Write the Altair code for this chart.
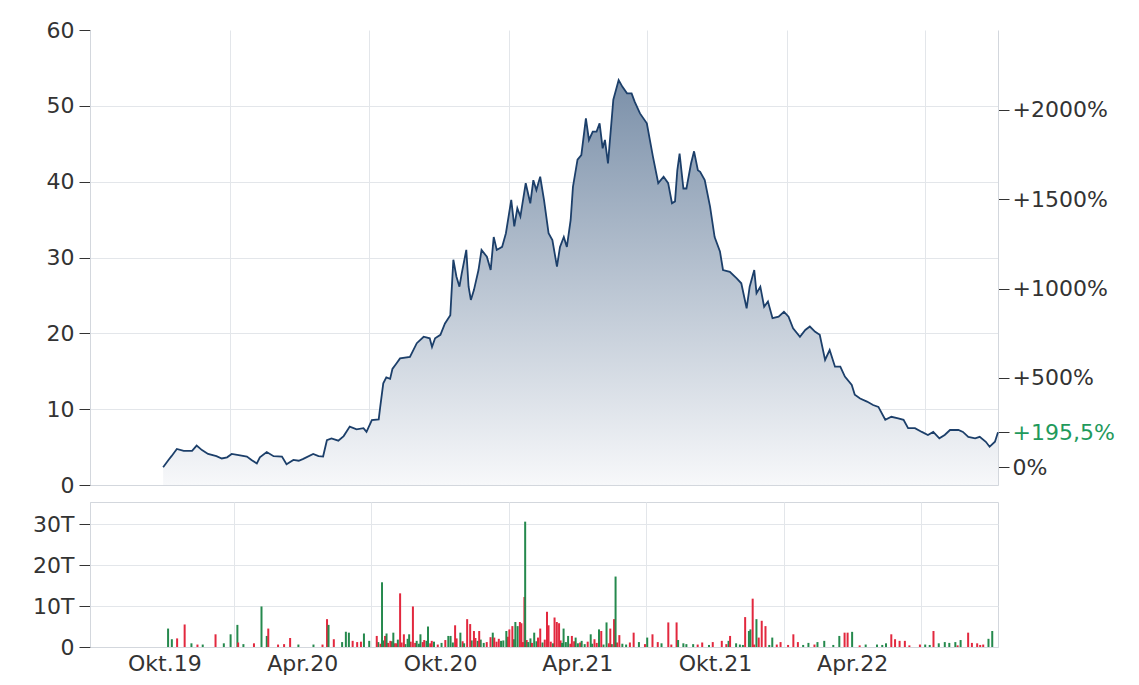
import altair as alt
import pandas as pd

START = pd.Timestamp("2019-07-01")

# price series: day offset from 2019-07-01, price
price_days = [96, 103, 107, 114, 123, 134, 140, 147, 155, 166, 173, 180, 186, 197, 206, 212, 219, 223,
              232, 241, 252, 258, 267, 274, 280, 293, 300, 306, 311, 317, 326, 333, 341, 350, 359, 363,
              370, 379, 381, 385, 389, 394, 397, 402, 407, 420, 429, 438, 446, 449, 453, 460, 466, 473,
              477, 481, 485, 488, 494, 497, 500, 504, 510, 514, 521, 526, 530, 534, 541, 546, 553, 557,
              561, 565, 572, 578, 582, 586, 591, 596, 602, 607, 613, 617, 622, 626, 631, 634, 640, 645,
              651, 655, 660, 665, 669, 673, 676, 680, 687, 694, 699, 705, 711, 715, 722, 731, 739, 746,
              753, 759, 764, 768, 771, 774, 779, 783, 789, 793, 798, 801, 807, 814, 820, 827, 831, 840,
              849, 855, 862, 866, 872, 875, 880, 885, 890, 896, 904, 911, 917, 923, 932, 939, 945, 952,
              958, 965, 971, 978, 985, 991, 1000, 1004, 1011, 1020, 1028, 1035, 1044, 1052, 1061, 1068,
              1074, 1083, 1092, 1100, 1107, 1115, 1122, 1129, 1140, 1146, 1153, 1162, 1168, 1176, 1181,
              1188, 1192]
price_vals = [2.33, 3.3, 3.8, 4.75, 4.5, 4.5, 5.2, 4.6, 4.1, 3.8, 3.5, 3.65, 4.1, 3.9, 3.75, 3.3, 2.85, 3.65,
              4.35, 3.8, 3.75, 2.75, 3.3, 3.2, 3.45, 4.1, 3.8, 3.75, 5.9, 6.15, 5.85, 6.45, 7.7, 7.35, 7.5, 7.0,
              8.55, 8.65, 10.3, 13.4, 14.2, 14.0, 15.3, 16.0, 16.7, 16.9, 18.7, 19.55, 19.35, 18.2, 19.35, 19.8, 21.3, 22.4,
              29.7, 27.5, 26.15, 27.9, 31.0, 26.15, 24.4, 25.7, 28.35, 31.0, 30.1, 28.35, 32.7, 31.0, 31.4, 33.2, 37.6, 34.1,
              36.5, 35.4, 39.8, 37.15, 40.2, 38.9, 40.65, 37.6, 33.2, 32.3, 28.8, 31.4, 32.7, 31.4, 34.95, 39.3, 42.9, 43.5,
              48.35, 45.5, 46.6, 46.6, 47.7, 44.4, 45.5, 42.4, 50.8, 53.4, 52.5, 51.65, 51.65, 50.55, 49.0, 47.7, 43.3, 39.8,
              40.65, 39.8, 37.15, 37.4, 41.5, 43.7, 39.1, 39.1, 42.4, 44.0, 41.5, 41.3, 40.2, 36.7, 32.7, 30.8, 28.35, 28.1,
              27.25, 26.6, 23.3, 26.15, 28.35, 25.3, 26.15, 23.5, 24.2, 22.0, 22.2, 22.85, 22.2, 20.65, 19.55, 20.45, 20.9, 20.2,
              19.8, 16.5, 17.8, 15.6, 15.6, 14.3, 13.2, 11.9, 11.4, 11.0, 10.55, 10.3, 8.6, 9.0, 8.8, 8.6,
              7.5, 7.5, 7.0, 6.6, 7.0, 6.15, 6.6, 7.25, 7.25, 7.0, 6.35, 6.15, 6.35, 5.7, 5.05,
              5.7, 6.96]

# volume series (in T): day offset, volume, direction (G = up day, R = down day)
vol_days = [97, 102, 109, 119, 128, 136, 143, 160, 171, 180, 189, 190, 197, 211, 221, 228, 230, 243, 251, 259,
            270, 290, 302, 308, 310, 317, 328, 333, 337, 342, 348, 353, 357, 364, 374, 381, 385, 387, 392, 396,
            400, 405, 410, 417, 422, 427, 432, 437, 442, 447, 455, 469, 472, 478, 485, 494, 498, 503, 508, 510,
            516, 520, 528, 530, 539, 546, 550, 554, 558, 561, 564, 566, 570, 571, 575, 583, 591, 600, 602, 610,
            613, 616, 622, 628, 633, 638, 646, 658, 663, 669, 672, 679, 684, 689, 691, 696, 710, 715, 722, 733,
            740, 747, 761, 772, 774, 781, 794, 806, 820, 832, 841, 843, 851, 863, 868, 870, 873, 878, 881, 885,
            890, 899, 910, 927, 933, 947, 959, 968, 988, 995, 999, 1005, 1023, 1038, 1050, 1057, 1062, 1068, 1075, 1095,
            1102, 1113, 1120, 1128, 1134, 1142, 1149, 1159, 1164, 1171, 1179, 1186, 1191]
vol_vals = [4.5, 1.9, 2.1, 5.5, 0.9, 0.6, 0.6, 3.1, 0.9, 3.1, 5.4, 1.1, 0.7, 0.9, 9.9, 2.7, 4.5, 0.6, 0.7, 2.2,
            0.6, 0.6, 0.6, 6.8, 5.4, 1.9, 1.2, 3.7, 3.5, 1.5, 1.2, 1.3, 3.3, 1.5, 2.7, 15.8, 2.7, 3.3, 1.5, 3.5,
            0.9, 13.1, 3.1, 3.1, 9.9, 1.5, 3.1, 1.7, 5.0, 1.5, 0.6, 2.7, 2.7, 5.3, 3.5, 6.8, 5.6, 3.9, 1.5, 3.9,
            1.0, 1.2, 3.5, 2.3, 1.5, 3.9, 4.3, 5.1, 6.1, 5.1, 6.1, 5.8, 12.2, 30.6, 1.2, 3.5, 4.5, 8.6, 5.3, 7.2,
            6.1, 5.8, 4.5, 2.7, 2.7, 2.3, 1.5, 3.1, 1.9, 4.3, 3.9, 6.0, 4.5, 6.8, 17.2, 2.9, 1.1, 3.5, 1.2, 2.3,
            3.1, 1.2, 6.0, 6.0, 1.7, 0.9, 0.7, 1.1, 1.2, 1.5, 1.5, 2.7, 0.9, 7.3, 3.9, 4.3, 11.8, 6.8, 2.3, 6.4,
            5.1, 2.3, 1.2, 3.1, 1.2, 1.0, 1.2, 1.5, 2.7, 3.5, 3.5, 3.7, 0.6, 0.6, 0.9, 3.1, 1.9, 1.5, 1.5, 0.6,
            0.6, 3.9, 0.9, 1.2, 1.0, 1.2, 1.7, 3.5, 1.0, 0.9, 0.6, 2.0, 3.9]
vol_dir = list("GGRRGRGRGGGRGRGGRRRR"
               "GGRRGRGGGRRRGGRGRGRG"
               "RRRGRGGRGRRGGRGRRRGR"
               "GRGRGGRRGGRRRGGGRRRR"
               "RRGGRGGGRGRGRRGRRRGG"
               "RRRRGGGRRRGRGRGGRGRR"
               "RGRRRGGGGRRGGGGRRRRR"
               "GRGGGGGRRRRGG")

# the low, dense band of small daily volumes (in T)
band_days = [376, 379, 383, 389, 394, 398, 402, 407, 412, 415, 419, 425, 430, 435, 440, 445, 450, 460,
             465, 475, 480, 488, 490, 500, 505, 512, 525, 533, 536, 542, 548, 556, 568, 573, 578, 580,
             586, 588, 594, 597, 605, 608, 618, 620, 625, 631, 636, 641, 644, 650, 654, 660, 666, 675,
             682, 686, 693, 700, 705, 730, 752, 765, 785, 800, 815, 838, 856, 860, 875, 895, 905, 920,
             940, 955, 980, 1015, 1045, 1081, 1108, 1145, 1175]
band_vals = [1.2, 0.8, 1.6, 1.0, 1.4, 0.9, 1.8, 1.1, 0.7, 2.0, 1.3, 1.0, 0.8, 1.2, 1.5, 0.9, 1.3, 1.0,
             1.7, 1.1, 2.1, 1.4, 0.9, 1.6, 2.2, 1.8, 2.4, 1.3, 2.0, 1.6, 2.5, 1.9, 1.2, 1.7, 2.1, 1.0,
             1.4, 2.3, 1.1, 1.8, 1.3, 0.9, 1.6, 1.0, 1.2, 0.8, 1.4, 0.9, 1.1, 0.7, 1.3, 0.8, 1.0, 0.6,
             0.9, 0.7, 1.1, 0.8, 0.6, 0.7, 0.9, 0.6, 0.7, 0.6, 0.5, 0.7, 0.6, 0.5, 0.6, 0.5, 0.6, 0.5,
             0.5, 0.6, 0.5, 0.4, 0.5, 0.4, 0.5, 0.4, 0.5]
band_dir = list("GRGRGRGRGGRRGRGRGG"
                "RGRRGGRGRRRGRGRRGR"
                "GRGRRGRGGRRGRGRGRG"
                "RGRGGRGRGRGRGGRGRR"
                "GRGRGRGRR")

BASE = 2.355            # price at 0 %
pct_ticks = [0, 195.5, 500, 1000, 1500, 2000]
price_ticks = [0, 10, 20, 30, 40, 50, 60]
vol_ticks = [0, 10, 20, 30]


def to_date(d):
    return (START + pd.Timedelta(days=d)).strftime("%Y-%m-%dT00:00:00")


price_df = pd.DataFrame({"date": [to_date(d) for d in price_days], "price": price_vals})
price_df["pct"] = (price_df["price"] / BASE - 1) * 100

all_days = band_days + vol_days
all_vals = band_vals + vol_vals
all_dirs = band_dir + vol_dir
vol_df = pd.DataFrame({
    "date": [to_date(d) for d in all_days],
    "vol": all_vals,
    "dir": ["up" if c == "G" else "down" for c in all_dirs],
})

FONT = "DejaVu Sans"
TXT = "#333333"
GRID = "#e3e6ea"
FRAME = "#d3d7dd"
LINE = "#1c3f6a"
GREEN = "#25894d"
RED = "#e2283e"
PCTGREEN = "#1f9a5c"

x_domain = ["2019-07-01T00:00:00", "2022-10-05T00:00:00"]
half_years = [alt.DateTime(year=y, month=m, date=1) for (y, m) in
              [(2020, 1), (2020, 7), (2021, 1), (2021, 7), (2022, 1), (2022, 7)]]
quarters = [alt.DateTime(year=y, month=m, date=1) for (y, m) in
            [(2019, 10), (2020, 1), (2020, 4), (2020, 7), (2020, 10), (2021, 1), (2021, 4),
             (2021, 7), (2021, 10), (2022, 1), (2022, 4), (2022, 7)]]

axis_common = dict(labelFont=FONT, labelFontSize=22, labelColor=TXT, tickColor=TXT,
                   tickSize=11, labelPadding=5, domainColor=FRAME, gridColor=GRID, title=None)

x_top = alt.X("date:T", scale=alt.Scale(domain=x_domain),
              axis=alt.Axis(values=half_years, labels=False, ticks=False, grid=True,
                            domainColor=FRAME, gridColor=GRID, title=None))

area = alt.Chart(price_df).mark_area(
    color=alt.Gradient(gradient="linear",
                       stops=[alt.GradientStop(color="#f7f8fa", offset=0),
                              alt.GradientStop(color="#7b90a9", offset=1)],
                       x1=1, x2=1, y1=1, y2=0)
).encode(
    x=x_top,
    y=alt.Y("price:Q", scale=alt.Scale(domain=[0, 60], nice=False),
            axis=alt.Axis(values=price_ticks,
                          gridOpacity={"condition": {"test": "datum.value == 60", "value": 0}, "value": 1},
                          **axis_common)),
)
line = alt.Chart(price_df).mark_line(color=LINE, strokeWidth=1.8).encode(
    x="date:T", y="price:Q")

pct_layer = alt.Chart(price_df).mark_line(opacity=0).encode(
    x="date:T",
    y=alt.Y("pct:Q", scale=alt.Scale(domain=[-100, (60 / BASE - 1) * 100], nice=False, zero=False),
            axis=alt.Axis(orient="right", values=pct_ticks, grid=False,
                          labelExpr="datum.value == 0 ? '0%' : (datum.value == 195.5 ? '+195,5%' : '+' + datum.value + '%')",
                          labelFont=FONT, labelFontSize=22,
                          labelColor={"condition": {"test": "datum.value == 195.5", "value": PCTGREEN}, "value": TXT},
                          tickColor=TXT, tickSize=11, labelPadding=3, domainColor=FRAME, title=None,
                          labelOverlap=False)),
)

top = alt.layer(alt.layer(area, line), pct_layer).resolve_scale(y="independent").properties(
    width=908, height=455, view=alt.ViewBackground(strokeOpacity=0))

vol = alt.Chart(vol_df).mark_bar(size=2).encode(
    x=alt.X("date:T", scale=alt.Scale(domain=x_domain),
            axis=alt.Axis(values=quarters, ticks=False, grid=True,
                          gridOpacity={"condition": {"test": "month(datum.value) == 0 || month(datum.value) == 6",
                                                     "value": 1}, "value": 0},
                          labelExpr="month(datum.value) == 9 ? 'Okt.' + timeFormat(datum.value, '%y') : (month(datum.value) == 3 ? 'Apr.' + timeFormat(datum.value, '%y') : '')",
                          labelFont=FONT, labelFontSize=22, labelColor=TXT, labelPadding=6,
                          labelOverlap=False, labelFlush=False, domainColor=FRAME, gridColor=GRID, title=None)),
    y=alt.Y("vol:Q", scale=alt.Scale(domain=[0, 35.4], nice=False),
            axis=alt.Axis(values=vol_ticks, labelExpr="datum.value == 0 ? '0' : datum.value + 'T'",
                          **axis_common)),
    color=alt.Color("dir:N", scale=alt.Scale(domain=["up", "down"], range=[GREEN, RED]), legend=None),
).properties(width=908, height=145)

chart = alt.vconcat(top, vol, spacing=5).properties(
    padding={"left": 24, "top": 11, "right": 5, "bottom": 5},
    background="white",
).configure_view(stroke=FRAME, strokeWidth=1)

chart.save("out.html", embed_options={"renderer": "svg", "actions": False})
